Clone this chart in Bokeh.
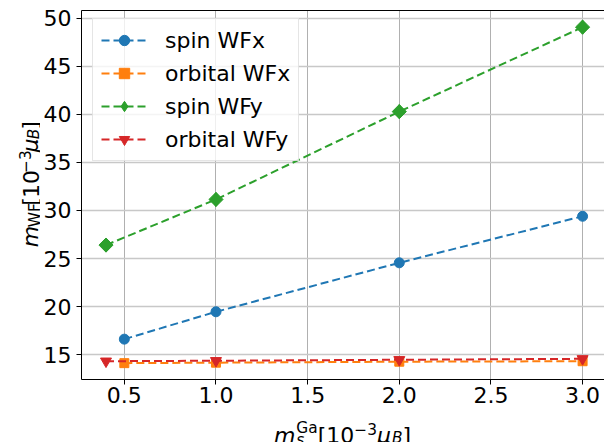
import math
from bokeh.plotting import figure
from bokeh.layouts import row, column
from bokeh.models import (Range1d, FixedTicker, PrintfTickFormatter, Label, Legend, LinearAxis,
                          ColumnDataSource)
from bokeh.embed import file_html
from bokeh.resources import INLINE

# ---- data ----
x_spin_wfx = [0.5, 1.0, 2.0, 3.0]
y_spin_wfx = [16.6, 19.45, 24.55, 29.4]
x_orb_wfx = [0.5, 1.0, 2.0, 3.0]
y_orb_wfx = [14.1, 14.15, 14.25, 14.3]
x_spin_wfy = [0.4, 1.0, 2.0, 3.0]
y_spin_wfy = [26.4, 31.15, 40.3, 49.1]
x_orb_wfy = [0.4, 1.0, 2.0, 3.0]
y_orb_wfy = [14.3, 14.35, 14.45, 14.55]
series_names = ["spin WFx", "orbital WFx", "spin WFy", "orbital WFy"]
x_ticks = [0.5, 1.0, 1.5, 2.0, 2.5, 3.0]
y_ticks = [15, 20, 25, 30, 35, 40, 45, 50]

PAGE_W, PAGE_H = 604, 442
YL_W = 40          # width of the y-label strip
XL_H = 30          # height of the x-label strip
P_W, P_H = PAGE_W - YL_W, PAGE_H - XL_H
FRAME_LEFT, FRAME_TOP, FRAME_BOTTOM = 79, 10, 379

p = figure(width=P_W, height=P_H, output_backend="svg", toolbar_location=None,
           x_range=Range1d(0.2663, 0.2663 + (PAGE_W - FRAME_LEFT) / 184.0),
           y_range=Range1d(12.396, 50.833),
           min_border_left=FRAME_LEFT - YL_W, min_border_right=0,
           min_border_top=FRAME_TOP, min_border_bottom=P_H - FRAME_BOTTOM)
p.background_fill_color = "white"
p.border_fill_color = "white"
p.outline_line_color = None

FONT = "DejaVu Sans"
for ax in (p.xaxis, p.yaxis):
    ax.major_label_text_font = FONT
    ax.major_label_text_font_size = "22px"
    ax.major_label_text_color = "black"
    ax.axis_line_color = "black"
    ax.axis_line_width = 1
    ax.major_tick_line_color = "black"
    ax.major_tick_out = 5
    ax.major_tick_in = 0
    ax.minor_tick_line_color = None
p.xaxis.ticker = FixedTicker(ticks=x_ticks)
p.yaxis.ticker = FixedTicker(ticks=y_ticks)
p.xaxis.formatter = PrintfTickFormatter(format="%.1f")
p.yaxis.formatter = PrintfTickFormatter(format="%d")
p.xaxis.major_label_standoff = 2
p.yaxis.major_label_standoff = 5

top = LinearAxis(ticker=FixedTicker(ticks=[]), major_label_text_font_size="0px",
                 major_tick_out=0, major_tick_in=0, minor_tick_out=0, minor_tick_in=0,
                 axis_line_color="black", axis_line_width=1)
p.add_layout(top, "above")

p.xgrid.grid_line_color = "#b0b0b0"
p.xgrid.grid_line_width = 1
p.ygrid.grid_line_color = "#c8c8c8"
p.ygrid.grid_line_width = 1.5

colors = ["#1f77b4", "#ff7f0e", "#2ca02c", "#d62728"]
xs = [x_spin_wfx, x_orb_wfx, x_spin_wfy, x_orb_wfy]
ys = [y_spin_wfx, y_orb_wfx, y_spin_wfy, y_orb_wfy]
markers = [("circle", 10, 0), ("square", 9, 0), ("square", 10, math.pi / 4), ("inverted_triangle", 11, 0)]

items = []
for name, c, x, y, (mk, sz, ang) in zip(series_names, colors, xs, ys, markers):
    src = ColumnDataSource(dict(x=x, y=y))
    l = p.line("x", "y", source=src, line_color=c, line_width=2, line_dash="8 4")
    if ang:
        # a diamond for the legend sample (legends do not rotate markers);
        # it sits fully under the rotated square drawn next
        d = p.scatter("x", "y", source=src, marker="diamond", size=14, fill_color=c, line_color=c)
    s = p.scatter("x", "y", source=src, marker=mk, size=sz, angle=ang, fill_color=c, line_color=c)
    items.append((name, [l, d] if ang else [l, s]))

legend = Legend(items=items, location=(11, FRAME_BOTTOM - 161))
legend.label_text_font = FONT
legend.label_text_font_size = "22px"
legend.label_text_color = "black"
legend.glyph_width = 46
legend.glyph_height = 26
legend.label_height = 26
legend.spacing = 7
legend.padding = 8
legend.margin = 0
legend.label_standoff = 18
legend.border_line_color = "#cccccc"
legend.border_line_width = 1
legend.background_fill_color = "white"
legend.background_fill_alpha = 0.8
p.add_layout(legend, "center")


def label_fig(w, h, x0, y0):
    f = figure(width=w, height=h, output_backend="svg", toolbar_location=None,
               x_axis_location=None, y_axis_location=None, title=None,
               x_range=Range1d(x0, x0 + w), y_range=Range1d(y0 + h, y0),
               min_border=0, min_border_left=0, min_border_right=0,
               min_border_top=0, min_border_bottom=0)
    f.grid.visible = False
    f.outline_line_color = None
    f.background_fill_color = "white"
    f.border_fill_color = "white"
    return f

yfig = label_fig(YL_W, P_H, 0, 0)
xfig = label_fig(PAGE_W, XL_H, 0, P_H)

# ---- axis labels built from pieces (math-like) ----
F = 22
ADV = {"m": 0.974, "s": 0.521, "G": 0.776, "a": 0.613, "W": 0.989, "F": 0.575,
       "[": 0.390, "]": 0.390, "1": 0.636, "0": 0.636, "3": 0.636, "\u2212": 0.838,
       "\u03bc": 0.636, "B": 0.686}

def width(t, k):
    return sum(ADV[ch] for ch in t) * F * k

def total(pieces):
    return sum(width(t, k) + (1 if it and k == 1 else 0) for t, k, it, sh, adv in pieces if adv)

def place_pieces(fig, pieces, horizontal, start, base):
    pos = 0.0
    for text, k, it, sh, adv in pieces:
        if horizontal:
            px, py, ang = start + pos, base - sh, 0
        else:
            px, py, ang = base - sh, start - pos, math.pi / 2
        fig.add_layout(Label(x=px, y=py, text=text, angle=ang, text_font=FONT,
                             text_font_size=f"{F * k:.1f}px",
                             text_font_style="italic" if it else "normal",
                             text_color="black", text_align="left",
                             text_baseline="alphabetic"))
        if adv:
            pos += width(text, k) + (1 if it and k == 1 else 0)

xl = [("m", 1, True, 0, True), ("s", 0.7, True, -5, False), ("Ga", 0.7, False, 7, True),
      ("[", 1, False, 0, True), ("10", 1, False, 0, True), ("\u22123", 0.7, False, 6, True),
      ("\u03bc", 1, True, 0, True), ("B", 0.7, True, -3, True), ("]", 1, False, 0, True)]
yl = [("m", 1, True, 0, True), ("WF", 0.7, False, -4.5, True),
      ("[", 1, False, 0, True), ("10", 1, False, 0, True), ("\u22123", 0.7, False, 6, True),
      ("\u03bc", 1, True, 0, True), ("B", 0.7, True, -3.5, True), ("]", 1, False, 0, True)]

place_pieces(xfig, xl, True, 342 - total(xl) / 2, 434.5)
place_pieces(yfig, yl, False, 194.5 + total(yl) / 2, 30)

layout = column(row(yfig, p, spacing=0), xfig, spacing=0)
open("out.html", "w").write(file_html(layout, INLINE))
